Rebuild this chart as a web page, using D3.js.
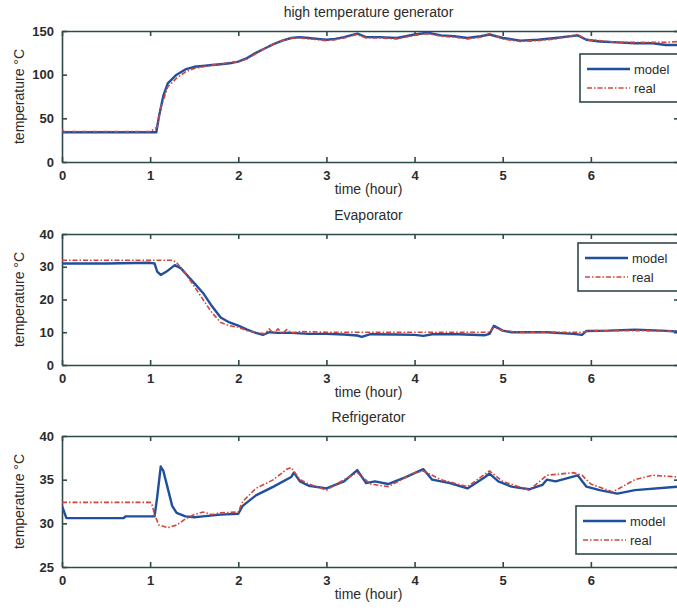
<!DOCTYPE html>
<html>
<head>
<meta charset="utf-8">
<script src="https://cdn.jsdelivr.net/npm/d3@7"></script>
<style>
  body { margin: 0; background: #fff; }
  text { font-family: "Liberation Sans", Arial, sans-serif; fill: #2b2b2b; }
</style>
</head>
<body>
<svg id="drawing_region"></svg>
<script>
// time (hour) ticks (7 sits on the cropped right edge)
const xTicks = [0, 1, 2, 3, 4, 5, 6];

// high temperature generator
const genModelT = [0, 0.5, 1.0, 1.07, 1.1, 1.15, 1.2, 1.3, 1.4, 1.5, 1.6, 1.7, 1.8, 1.9, 2.0, 2.1, 2.2, 2.3, 2.4, 2.5, 2.6, 2.7, 2.8, 2.9, 3.0, 3.1, 3.2, 3.35, 3.45, 3.6, 3.8, 4.0, 4.15, 4.3, 4.45, 4.6, 4.75, 4.85, 5.0, 5.2, 5.4, 5.6, 5.85, 5.95, 6.1, 6.3, 6.5, 6.7, 6.85, 7.0];
const genModelV = [34, 34, 34, 34, 52, 76, 90, 100, 106, 109, 110, 111, 112, 113, 115, 119, 125, 130, 135, 139, 142, 143, 142, 141, 140, 141, 143, 147, 143, 143, 142, 146, 148, 145, 144, 142, 144, 146, 142, 139, 140, 142, 145, 140, 138, 137, 136, 136, 134, 134];
const genRealT = [0, 0.02, 0.5, 1.0, 1.08, 1.12, 1.2, 1.3, 1.4, 1.5, 1.6, 1.7, 1.8, 1.9, 2.0, 2.1, 2.2, 2.3, 2.4, 2.5, 2.6, 2.7, 2.8, 2.9, 3.0, 3.1, 3.2, 3.35, 3.45, 3.6, 3.8, 4.0, 4.15, 4.3, 4.45, 4.6, 4.75, 4.85, 5.0, 5.2, 5.4, 5.6, 5.85, 5.95, 6.1, 6.3, 6.5, 6.7, 6.85, 7.0];
const genRealV = [37, 35, 35, 35, 40, 62, 86, 96, 103, 107, 109, 111, 112, 114, 115, 118, 124, 130, 135, 139, 142, 142, 141, 140, 139, 140, 142, 146, 142, 142, 141, 145, 147, 144, 143, 141, 143, 147, 141, 138, 139, 141, 146, 140, 139, 137, 137, 137, 137, 138];

// Evaporator
const evaModelT = [0, 0.5, 1.0, 1.05, 1.08, 1.12, 1.2, 1.28, 1.35, 1.45, 1.5, 1.6, 1.7, 1.8, 1.9, 2.0, 2.1, 2.2, 2.28, 2.35, 2.45, 2.6, 2.8, 3.0, 3.2, 3.35, 3.4, 3.5, 3.8, 4.0, 4.1, 4.2, 4.5, 4.8, 4.85, 4.9, 5.0, 5.1, 5.5, 5.8, 5.9, 5.95, 6.2, 6.5, 6.8, 7.0];
const evaModelV = [31, 31, 31.2, 31, 28.5, 27.5, 28.8, 30.5, 29.5, 26.5, 25, 22, 18, 14.5, 13, 12, 10.8, 9.8, 9.2, 10, 9.8, 9.8, 9.5, 9.5, 9.3, 9.0, 8.6, 9.4, 9.3, 9.2, 8.9, 9.4, 9.4, 9.1, 9.5, 12, 10.5, 10, 10, 9.5, 9.2, 10.4, 10.5, 10.8, 10.5, 10.2];
const evaRealT = [0, 0.5, 1.0, 1.25, 1.3, 1.4, 1.5, 1.6, 1.7, 1.8, 1.9, 2.0, 2.1, 2.2, 2.3, 2.35, 2.4, 2.45, 2.5, 2.55, 2.6, 2.7, 3.0, 3.5, 4.0, 4.5, 4.85, 4.9, 5.0, 5.2, 5.5, 5.9, 6.0, 6.5, 7.0];
const evaRealV = [32, 32, 32, 32, 31.3, 28, 24, 20, 16, 13, 12, 11.5, 10.5, 10, 9.5, 11, 9.6, 11, 9.6, 10.8, 9.8, 10.2, 10, 10, 10, 10, 10, 11.5, 10.5, 10, 10, 10, 10.5, 10.5, 10.3];

// Refrigerator
const refModelT = [0, 0.05, 0.7, 0.72, 1.05, 1.08, 1.12, 1.15, 1.2, 1.25, 1.3, 1.4, 1.5, 1.6, 1.8, 2.0, 2.05, 2.2, 2.4, 2.6, 2.63, 2.7, 2.8, 3.0, 3.2, 3.35, 3.45, 3.55, 3.7, 3.9, 4.1, 4.2, 4.4, 4.6, 4.8, 4.85, 4.95, 5.1, 5.3, 5.45, 5.5, 5.6, 5.85, 5.95, 6.1, 6.3, 6.5, 7.0];
const refModelV = [32, 30.6, 30.6, 30.8, 30.8, 33, 36.5, 36, 34, 32, 31.2, 30.8, 30.7, 30.8, 31, 31.1, 32, 33.2, 34.2, 35.3, 35.8, 34.8, 34.3, 34, 34.8, 36.1, 34.6, 34.8, 34.5, 35.3, 36.2, 35, 34.6, 34, 35.3, 35.7, 34.8, 34.2, 33.9, 34.4, 35, 34.8, 35.5, 34.2, 33.8, 33.4, 33.8, 34.2];
const refRealT = [0, 1.0, 1.02, 1.05, 1.1, 1.2, 1.3, 1.4, 1.5, 1.6, 1.7, 1.8, 2.0, 2.05, 2.2, 2.4, 2.55, 2.6, 2.7, 2.8, 3.0, 3.2, 3.35, 3.5, 3.7, 4.0, 4.1, 4.3, 4.6, 4.85, 5.0, 5.3, 5.5, 5.8, 5.9, 6.0, 6.25, 6.5, 6.7, 7.0];
const refRealV = [32.4, 32.4, 32.2, 31, 29.8, 29.5, 29.8, 30.5, 31, 31.3, 31, 31.2, 31.3, 32.5, 34, 35, 36.2, 36.4, 35, 34.5, 33.8, 35, 35.8, 34.5, 34.2, 35.8, 36, 35, 34.2, 36, 34.8, 33.8, 35.5, 35.8, 35.5, 34.5, 33.6, 35, 35.5, 35.3];

const panels = [
  { title: 'high temperature generator', top: 31, yDomain: [0, 150], yTicks: [0, 50, 100, 150],
    model: [genModelT, genModelV], real: [genRealT, genRealV], legend: { x: 580, y: 54 } },
  { title: 'Evaporator', top: 234, yDomain: [0, 40], yTicks: [0, 10, 20, 30, 40],
    model: [evaModelT, evaModelV], real: [evaRealT, evaRealV], legend: { x: 578, y: 243 } },
  { title: 'Refrigerator', top: 436, yDomain: [25, 40], yTicks: [25, 30, 35, 40],
    model: [refModelT, refModelV], real: [refRealT, refRealV], legend: { x: 576, y: 506 } }
];

const config = { width: 677, height: 613, left: 62, right: 679, plotHeight: 131 };
const axisColor = '#2f4a4a';
const modelColor = '#1f4f9e';
const realColor = '#d2453a';

const svg = d3.select('#drawing_region').attr('width', config.width).attr('height', config.height);
svg.append('rect').attr('width', config.width).attr('height', config.height).attr('fill', '#fff');

const xscale = d3.scaleLinear().domain([0, 7]).range([config.left, config.right]);

panels.forEach((p, i) => {
  const bottom = p.top + config.plotHeight;
  const yscale = d3.scaleLinear().domain(p.yDomain).range([bottom, p.top]);
  const g = svg.append('g');

  g.append('clipPath').attr('id', 'clip' + i)
    .append('rect').attr('x', config.left).attr('y', p.top)
    .attr('width', config.right - config.left).attr('height', config.plotHeight);

  // axes with inward ticks (bottom/top/left/right)
  const xaxis = d3.axisBottom(xscale).tickValues(xTicks).tickFormat(d3.format('d')).tickSize(-5).tickPadding(9).tickSizeOuter(0);
  const xaxisTop = d3.axisTop(xscale).tickValues(xTicks).tickSize(-5).tickFormat('').tickSizeOuter(0);
  const yaxis = d3.axisLeft(yscale).tickValues(p.yTicks).tickFormat(d3.format('d')).tickSize(-5).tickPadding(8).tickSizeOuter(0);
  const yaxisRight = d3.axisRight(yscale).tickValues(p.yTicks).tickSize(-5).tickFormat('').tickSizeOuter(0);

  const axes = [
    g.append('g').attr('transform', `translate(0, ${bottom})`).call(xaxis),
    g.append('g').attr('transform', `translate(0, ${p.top})`).call(xaxisTop),
    g.append('g').attr('transform', `translate(${config.left}, 0)`).call(yaxis),
    g.append('g').attr('transform', `translate(${config.right}, 0)`).call(yaxisRight)
  ];
  axes.forEach(a => {
    a.selectAll('path, line').attr('stroke', axisColor).attr('stroke-width', 1.6);
    a.selectAll('text').attr('font-size', 13).attr('font-weight', 'bold').attr('fill', '#333');
  });

  // lines
  const line = d3.line().x(d => xscale(d[0])).y(d => yscale(d[1]));
  const modelPts = p.model[0].map((t, k) => [t, p.model[1][k]]);
  const realPts = p.real[0].map((t, k) => [t, p.real[1][k]]);
  const lines = g.append('g').attr('clip-path', `url(#clip${i})`);
  lines.append('path').attr('d', line(modelPts)).attr('fill', 'none')
    .attr('stroke', modelColor).attr('stroke-width', 2.4).attr('stroke-linejoin', 'round');
  lines.append('path').attr('d', line(realPts)).attr('fill', 'none')
    .attr('stroke', realColor).attr('stroke-width', 1.6).attr('stroke-dasharray', '5,2,1.5,2');

  // titles and labels
  svg.append('text').attr('x', (config.left + config.right) / 2 - 2).attr('y', p.top - 14)
    .attr('text-anchor', 'middle').attr('font-size', 14).text(p.title);
  svg.append('text').attr('x', (config.left + config.right) / 2 - 2).attr('y', bottom + 32)
    .attr('text-anchor', 'middle').attr('font-size', 14).text('time (hour)');
  svg.append('text').attr('transform', `translate(24, ${p.top + config.plotHeight / 2}) rotate(-90)`)
    .attr('text-anchor', 'middle').attr('font-size', 14).text('temperature °C');

  // legend
  const lg = svg.append('g').attr('transform', `translate(${p.legend.x}, ${p.legend.y})`);
  lg.append('rect').attr('width', 110).attr('height', 48).attr('fill', '#fff')
    .attr('stroke', axisColor).attr('stroke-width', 1.6);
  lg.append('line').attr('x1', 7).attr('x2', 50).attr('y1', 15).attr('y2', 15)
    .attr('stroke', modelColor).attr('stroke-width', 2.4);
  lg.append('line').attr('x1', 7).attr('x2', 50).attr('y1', 34).attr('y2', 34)
    .attr('stroke', realColor).attr('stroke-width', 1.6).attr('stroke-dasharray', '5,2,1.5,2');
  lg.append('text').attr('x', 54).attr('y', 20).attr('font-size', 13).text('model');
  lg.append('text').attr('x', 54).attr('y', 39).attr('font-size', 13).text('real');
});
</script>
</body>
</html>
